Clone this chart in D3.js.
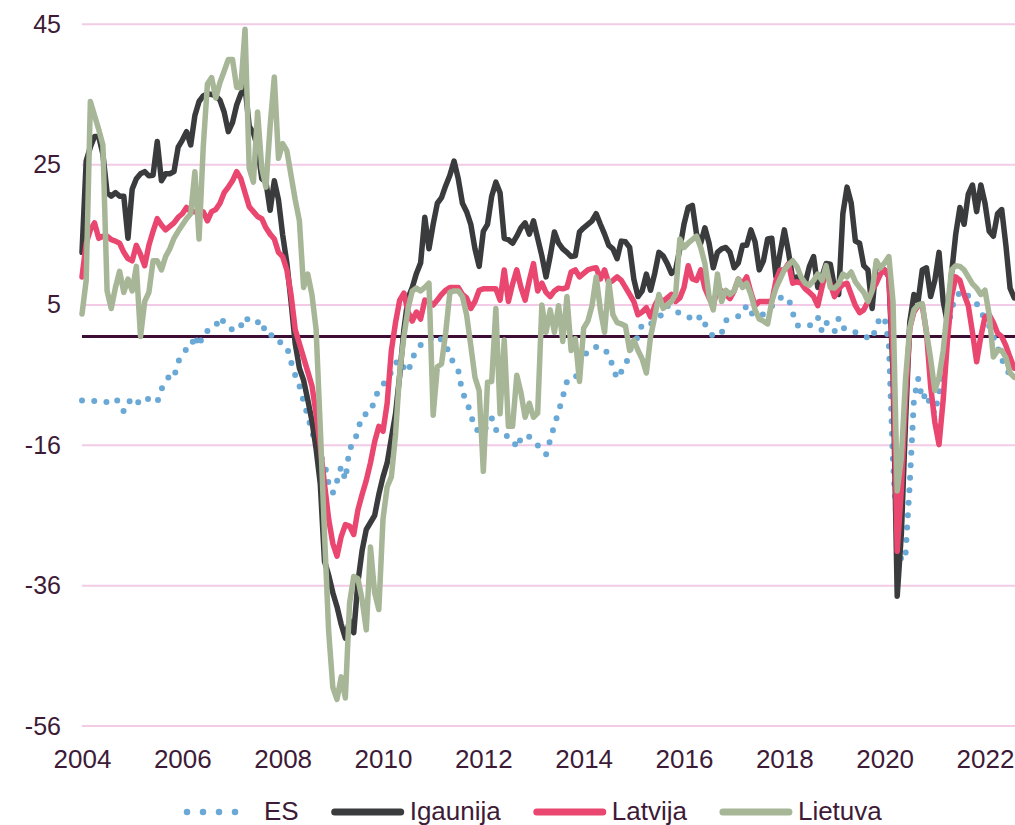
<!DOCTYPE html>
<html>
<head>
<meta charset="utf-8">
<script src="https://cdn.jsdelivr.net/npm/d3@7"></script>
<style>
  body { margin: 0; background: #fff; }
  svg text { font-family: "Liberation Sans", Arial, sans-serif; fill: #3d1b37; }
</style>
</head>
<body>
<div id="container"></div>
<script>
/* mensal, jan 2004 .. ago 2022 (uma linha por ano) */
const ES = [
  -9.1, -9, -9, -9.2, -9.4, -9.4, -9.3, -9, -8.8, -9.5, -10.7, -9.5,
  -8.8, -9.5, -9.2, -8.6, -9, -9.3, -9.4, -7.5, -6.5, -5.5, -5.8, -3.6,
  -2.5, -1.8, -1.7, 0.2, -1.4, 0.5, 0.8, 1, 1.5, 2.8, 2, 1.2,
  1, 0.8, 1.5, 2.8, 2.2, 1.8, 2, 2.3, 0.2, 0.2, 0.2, -0.7,
  -1, -1.4, -3.6, -5.5, -7, -9.2, -11.3, -13.5, -15.5, -17, -18, -21,
  -22.3, -20.6, -18.5, -20.4, -15.9, -15.4, -13.3, -11.3, -11, -10.8, -9, -7.5,
  -6.8, -6.3, -5, -3.8, -3.3, -4.5, -5.1, -3.1, -2, -1.2, -0.7, -0.5,
  0, 0.2, -0.5, -1, -2.9, -3.8, -4.8, -8, -9.1, -11.1, -13.1, -13.5,
  -13.8, -12.5, -11.6, -13.3, -13.5, -14, -14.3, -14.5, -15.9, -14.5, -14, -14.3,
  -14.7, -15.5, -16.4, -16.8, -14.7, -12.6, -10.7, -8.6, -6.4, -6.2, -6.1, -4,
  -3, -2, -1.8, -1.5, -1.4, -2, -2.4, -4.4, -6, -5, -4.3, -2,
  -1, 0, 1.8, 2, 1.8, 2.2, 2.6, 3.5, 4.4, 4, 3.5, 3.4,
  3.2, 2.8, 2.5, 2.2, 3, 1.8, 0.8, 0, 0.2, 0.5, 2.3, 2.4,
  2.7, 2.9, 3.2, 4.5, 3.4, 3, 2.8, 3.2, 3.8, 4.3, 5.2, 5.5,
  5.6, 5.5, 3.4, 1.6, 1.5, 1.5, 1.5, 2.2, 2.8, 0.7, 2, 1.5,
  0.7, 2.6, 1.2, 1.2, 1, 0.6, 0.4, 0.2, -0.2, -0.4, 1.5, 2.8,
  2.6, -1, -18, -28, -32, -31, -21, -9, -6, -9, -8, -10,
  -11, -8, -4, 0.5, 4, 5.5, 6.3, 6.5, 5.8, 5.2, 4.7, 3.5,
  2.5, 1.5, 0, -1.5, -3.2, -4.5, -5.5, -6.4
]

const Igaunija = [
  12, 25, 27, 28.5, 28.5, 26, 20.5, 20, 20.5, 20, 20, 14,
  21, 22.5, 23.2, 23.5, 22.9, 23, 27.8, 22.2, 23.2, 23.2, 23.5, 27,
  28, 29.2, 27.3, 31.5, 33.5, 34.3, 34.6, 34.5, 34.3, 33.7, 32, 29.2,
  30.5, 33, 34.6, 35.6, 30, 29, 27, 22.5, 22, 18, 22.2, 19.5,
  14.5, 10.5, 5, -1, -4.5, -6.2, -9, -12, -16, -21, -32, -34,
  -36.5, -38.5, -41, -43, -40.5, -42.2, -35, -30.5, -27.5, -26.5, -25.5, -22.5,
  -20, -18, -14.5, -11, -5.5, 1, 5.5, 7, 9, 10.5, 17, 12.5,
  16, 19, 19.8, 21.5, 23, 25, 22.5, 19, 17.8, 16, 12.5, 10,
  15, 16, 20, 22, 20.5, 14, 13.8, 13.3, 14.3, 15.5, 16.2, 14.6,
  16.5, 14, 11.5, 8.5, 11.5, 14.9, 13.3, 12.5, 12, 11.4, 11.5, 14.9,
  15.5, 16, 16.5, 17.5, 16, 14.6, 13, 12.5, 11.1, 13.6, 13.5, 12.7,
  8.2, 5.7, 6.5, 8.9, 6.6, 9, 12, 11.5, 10.4, 9, 9.5, 12.5,
  16, 18.4, 18.7, 14.6, 13.3, 15.5, 13.3, 9.8, 12, 12.5, 12.7, 12,
  9.8, 10.5, 13, 13, 15.2, 13.5, 9.5, 10.8, 13.9, 14, 8.5, 12,
  15.2, 12, 8.2, 8.5, 8.2, 7.6, 10, 11.4, 7, 8.5, 10.4, 10.3,
  7, 6, 17.5, 21.3, 19, 13.6, 13.3, 10.1, 9.5, 4, 10.4, 9.8,
  9.5, 8.5, -5, -37, -28, -12, 2, 6, 5, 9.5, 9.8, 5.7,
  8, 12, 5, 2, 9, 14.6, 18.4, 16, 20.3, 21.6, 17.8, 21.6,
  19, 15, 14.3, 17.5, 18.1, 13, 6.9, 5.5
]

const Latvija = [
  8.5, 13.3, 15.2, 16.2, 14, 14.3, 14.3, 13.8, 13.6, 13.3, 12, 11.1,
  10.8, 13, 11.7, 10.1, 13, 15, 16.8, 15.9, 15.2, 15.7, 16.2, 17,
  17.5, 18.4, 17.8, 17.8, 17.8, 17.8, 16.5, 17.8, 18.1, 19, 20.5, 21.3,
  22.2, 23.5, 22.5, 20.5, 18.5, 17.8, 17.1, 16.8, 15.5, 14.6, 13.9, 12,
  11.4, 9.5, 6, 1, -1, -3, -5, -7, -11, -15.7, -21, -26,
  -29.5, -31.3, -28.5, -26.8, -27, -28.2, -24.7, -22.5, -20.5, -18, -15, -12.8,
  -13.5, -9.5, -2, 2, 5.2, 6.2, 3.5, 2.2, 3.5, 2.5, 5.2, 5,
  4.5, 5.2, 6, 6.6, 7, 7, 7, 6, 5.5, 4, 5, 6.6,
  6.8, 6.8, 6.8, 6.8, 5.2, 9.5, 5, 7.5, 9.5, 7, 5.2, 8,
  10.4, 6.5, 7.6, 6.3, 5.7, 6.5, 6.9, 6.8, 7, 9.2, 9.5, 8.5,
  9, 9.5, 9.7, 9.8, 8.2, 9.5, 7.6, 8, 8.5, 8, 7, 6,
  5, 3.1, 3.5, 4.1, 2.8, 4.4, 5.5, 5, 5.5, 6, 5, 5.5,
  7, 10.1, 8.2, 8, 9.5, 6.9, 5.5, 4.4, 6.9, 6.5, 6, 5.4,
  6.5, 8.2, 7.5, 8.5, 6.3, 4.4, 5, 5, 5, 5, 8, 9.5,
  9.5, 10.4, 7.6, 7.8, 7.6, 6.8, 6.3, 5.7, 4.4, 7, 9.5, 7.5,
  5.7, 6.8, 7.4, 7.6, 6, 4.4, 3.4, 3.8, 5, 6.6, 7.6, 8.9,
  9.5, 8.5, -3, -30.6, -21.7, -9, 1.2, 3.5, 4.4, 4.4, 0.6, -7.1,
  -12.2, -15.4, -9, -0.7, 5.7, 8.5, 8, 6, 4.4, 0.6, -3.6, 0,
  2.8, 3.1, 2, 0.5, 0, -1.3, -3, -4.5
]

const Lietuva = [
  3.2, 8, 33.5, 31.5, 29.5, 27.3, 6.5, 4, 7, 9.3, 6.3, 8.2,
  6.5, 10, 0, 5, 6.3, 10.8, 10.8, 9.5, 11.4, 12.5, 14, 15,
  15.9, 16.8, 17.5, 23.5, 13.9, 27, 36, 36.9, 34, 36.2, 37.8, 39.5,
  39.5, 35.5, 35.5, 43.8, 24, 22, 32, 24, 21.3, 30, 37, 25.4,
  27.5, 26.5, 23, 19.5, 16.5, 7, 8.9, 6, 1, -13, -28, -42,
  -50, -51.7, -48.5, -51.5, -38, -34.2, -34.5, -37.5, -41.8, -30, -36.5, -38.9,
  -26, -21.4, -20, -14, -5, 0, 4, 6.5, 6.9, 6.5, 7, 7.6,
  -11.2, -4.3, -3.9, 0.6, 6.3, 6.5, 6.5, 5.7, 3.1, -1.3, -5.8, -7.7,
  -19.2, -6.5, -6.4, 4, -11, -0.5, -12.8, -12.8, -5.5, -8, -11.5, -9.5,
  -11.5, -10.9, 4.5, 0.6, 3.8, 0.6, 4.4, -0.7, 5.7, -2, -0.3, -6.4,
  1.2, 2.2, 4.4, 8.5, 3.8, 0.6, 7.9, 3.1, 2, 1.8, 1.5, -2,
  -0.5, -2, -3.2, -5.2, 0, 2.8, 6, 4, 4.5, 5, 6, 13.9,
  12.7, 13.3, 13.8, 14.3, 12.7, 10.4, 5.7, 3.8, 8.9, 5, 6.6, 6,
  6.5, 8.2, 7, 7.6, 6, 3.8, 2.5, 2.2, 1.8, 5, 6.9, 8.2,
  9.5, 10.2, 10.8, 10, 8.5, 7.6, 7.3, 8, 8.9, 8, 10.1, 7,
  6.9, 7.5, 8.9, 8.5, 9.2, 7.8, 7, 6.3, 5, 6.5, 10.8, 9.8,
  10.5, 11.4, 5, -22, -17.3, -6, 1.2, 3.8, 4.5, 4.7, 0.6, -3.2,
  -7.7, -5.8, -2, 4, 9.5, 10.1, 10, 9.5, 8.5, 7.5, 6.9, 6,
  6.6, 3.1, -2.9, -2, -2, -3, -5.2, -5.8
]

const nomes = ["ES", "Igaunija", "Latvija", "Lietuva"]
const cores = ["#6aa9d6", "#3a3b3d", "#e9476f", "#a6b697"]

// anos rotulados no eixo x
const anosTicks = [2004, 2006, 2008, 2010, 2012, 2014, 2016, 2018, 2020, 2022]
// linhas de grelha (os rótulos saem arredondados: 45, 25, 5, -16, -36, -56)
const yTicks = [44.5, 24.5, 4.5, -15.5, -35.5, -55.5]

const width = 1015
const height = 825
const margem = { left: 82, right: 1015, top: 24.3, bottom: 726 }

const x = d3.scaleLinear().domain([2004, 2022]).range([margem.left, 985])
const y = d3.scaleLinear().domain([-55.5, 44.5]).range([margem.bottom, margem.top])

const svg = d3.create("svg")
  .attr("width", width)
  .attr("height", height)
  .attr("viewBox", [0, 0, width, height])

// o svg tem de estar na página para medir o texto da legenda
document.getElementById("container").append(svg.node())

/* grelha */
svg.append("g")
  .selectAll("line")
  .data(yTicks)
  .join("line")
    .attr("x1", margem.left).attr("x2", margem.right)
    .attr("y1", d => y(d)).attr("y2", d => y(d))
    .attr("stroke", "#f3cbe7")
    .attr("stroke-width", 2)

/* linha do zero */
svg.append("line")
  .attr("x1", margem.left).attr("x2", margem.right)
  .attr("y1", y(0)).attr("y2", y(0))
  .attr("stroke", "#3d0d36")
  .attr("stroke-width", 3)

/* eixo y, só os números */
const roundAway = d => Math.sign(d) * Math.round(Math.abs(d))
svg.append("g")
  .attr("transform", `translate(61,0)`)
  .call(d3.axisLeft(y).tickValues(yTicks).tickFormat(roundAway).tickSize(0).tickPadding(0))
  .call(g => g.select(".domain").remove())
  .call(g => g.selectAll("text").attr("font-size", 25).attr("fill", "#3d1b37"))

/* eixo x */
svg.append("g")
  .attr("transform", `translate(0,${margem.bottom})`)
  .call(d3.axisBottom(x).tickValues(anosTicks).tickFormat(d3.format("d")).tickSize(0))
  .call(g => g.select(".domain").remove())
  .call(g => g.selectAll("text")
    .attr("y", 42).attr("dy", null)
    .attr("font-size", 26).attr("fill", "#3d1b37"))

/* séries */
const linha = d3.line()
  .x((d, i) => x(2004 + i / 12))
  .y(d => y(d))

const series = [ES, Igaunija, Latvija, Lietuva]

svg.append("g")
  .attr("fill", "none")
  .selectAll("path")
  .data(series)
  .join("path")
    .attr("d", linha)
    .attr("stroke", (d, i) => cores[i])
    .attr("stroke-width", (d, i) => i === 0 ? 6 : 5.5)
    .attr("stroke-linejoin", "round")
    .attr("stroke-linecap", "round")
    .attr("stroke-dasharray", (d, i) => i === 0 ? "0 12.5" : null)

/* legenda */
const leg = svg.append("g").attr("transform", "translate(187,812)")
let pos = 0
nomes.forEach((nome, i) => {
  const item = leg.append("g").attr("transform", `translate(${pos},0)`)
  item.append("line")
    .attr("x1", 0).attr("x2", i === 0 ? 64 : 66)
    .attr("stroke", cores[i])
    .attr("stroke-width", i === 0 ? 6.5 : 7)
    .attr("stroke-linecap", "round")
    .attr("stroke-dasharray", i === 0 ? "0 16" : null)
  const t = item.append("text")
    .attr("x", i === 0 ? 77 : 75)
    .attr("y", 8)
    .attr("font-size", 26)
    .attr("fill", "#3d1b37")
    .text(nome)
  pos += (i === 0 ? 77 : 75) + t.node().getComputedTextLength() + 36
})
</script>
</body>
</html>
